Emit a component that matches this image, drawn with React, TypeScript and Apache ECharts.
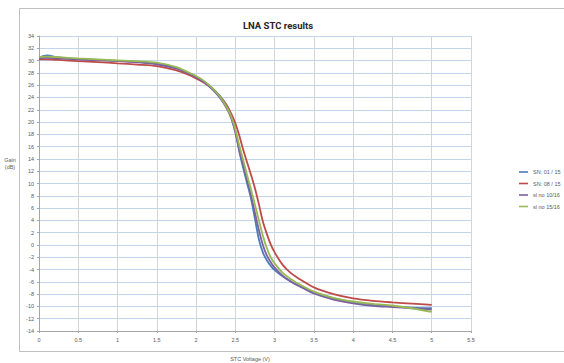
import React, { useEffect, useRef } from "react";
import * as echarts from "echarts";

const xValues = [0, 0.1, 0.25, 0.5, 0.75, 1, 1.25, 1.5, 1.75, 1.9, 2, 2.1, 2.2, 2.3, 2.4, 2.45, 2.5, 2.55, 2.6, 2.65, 2.7, 2.75, 2.8, 2.85, 2.9, 2.95, 3.0, 3.1, 3.2, 3.3, 3.5, 3.75, 4, 4.25, 4.5, 4.75, 5];

const sn01 = [30.5, 30.85, 30.5, 30.2, 30.1, 29.95, 29.8, 29.5, 28.8, 28.0, 27.4, 26.6, 25.6, 24.3, 22.5, 20.8, 18.5, 15.2, 12.5, 10, 7.5, 4.2, 0.9, -1.2, -2.5, -3.4, -4.1, -5.1, -5.9, -6.6, -7.7, -8.7, -9.3, -9.7, -10, -10.2, -10.3];
const sn08 = [30.2, 30.2, 30.1, 29.9, 29.75, 29.55, 29.35, 29.1, 28.4, 27.7, 27.1, 26.4, 25.5, 24.2, 22.5, 21.3, 19.8, 17.8, 15.5, 13.4, 11.4, 9.2, 6.6, 3.8, 1.8, 0.1, -1.2, -3.2, -4.5, -5.4, -6.9, -8.0, -8.7, -9.1, -9.35, -9.55, -9.75];
const sl10 = [30.4, 30.45, 30.35, 30.2, 30.05, 29.9, 29.7, 29.4, 28.7, 27.9, 27.3, 26.5, 25.4, 24.0, 22.0, 20.5, 18.3, 15.5, 13.0, 10.5, 8.0, 5.2, 2.4, 0, -1.7, -2.8, -3.7, -5.0, -5.9, -6.6, -7.9, -8.9, -9.5, -9.9, -10.1, -10.3, -10.5];
const sl15 = [30.6, 30.65, 30.55, 30.35, 30.2, 30.05, 29.9, 29.65, 28.95, 28.1, 27.5, 26.7, 25.6, 24.2, 22.2, 20.8, 18.8, 16.2, 13.8, 11.3, 9.0, 6.5, 4.0, 1.5, -0.5, -2.0, -3.0, -4.5, -5.5, -6.3, -7.6, -8.6, -9.2, -9.6, -9.85, -10.3, -10.9];

const seriesNames = ["SN: 01 / 15", "SN: 08 / 15", "sl no 10/16", "sl no 15/16"];
const seriesColors = ["#4a7ebb", "#be4b48", "#7d60a0", "#98b954"];
const seriesValues = [sn01, sn08, sl10, sl15];

const yMin = -14;
const yMax = 34;
const yStep = 2;
const xMin = 0;
const xMax = 5.5;
const xStep = 0.5;

export default function App() {
  const ref = useRef<HTMLDivElement>(null);
  useEffect(() => {
    document.body.style.margin = "0";
    if (!ref.current) return;
    const chart = echarts.init(ref.current, null, { renderer: "svg" });
    const font = "'Liberation Sans', Arial, sans-serif";
    chart.setOption({
      animation: false,
      backgroundColor: "#ffffff",
      title: {
        text: "LNA STC results",
        left: 273,
        top: 15,
        textAlign: "center",
        textStyle: { fontSize: 9.5, fontWeight: "bold", color: "#262626", fontFamily: "Roboto, sans-serif" },
      },
      legend: {
        orient: "vertical",
        left: 519,
        top: 169,
        padding: 0,
        itemWidth: 9,
        itemHeight: 1.6,
        itemGap: 5.5,
        icon: "rect",
        textStyle: { fontSize: 5.5, color: "#595959", fontFamily: font },
        data: seriesNames,
      },
      grid: { left: 39, right: 93, top: 36, bottom: 32 },
      xAxis: {
        type: "value",
        min: xMin,
        max: xMax,
        interval: xStep,
        axisLine: { onZero: false, lineStyle: { color: "#a6a6a6", width: 1 } },
        axisTick: { show: true, length: 2, lineStyle: { color: "#a6a6a6" } },
        axisLabel: { fontSize: 5.5, color: "#595959", margin: 6, fontFamily: font },
        splitLine: { show: true, lineStyle: { color: "#d4d4d4", width: 1 } },
      },
      yAxis: {
        type: "value",
        min: yMin,
        max: yMax,
        interval: yStep,
        axisLine: { show: true, onZero: false, lineStyle: { color: "#a6a6a6", width: 1 } },
        axisTick: { show: true, length: 2, lineStyle: { color: "#a6a6a6" } },
        axisLabel: { fontSize: 5.5, color: "#595959", margin: 5, fontFamily: font },
        splitLine: { show: true, lineStyle: { color: "#c3d5ea", width: 1 } },
      },
      series: seriesValues.map((vals, i) => ({
        name: seriesNames[i],
        type: "line",
        smooth: 0.3,
        showSymbol: false,
        symbol: "none",
        color: seriesColors[i],
        lineStyle: { width: 1.8, color: seriesColors[i] },
        data: xValues.map((x, j) => [x, vals[j]]),
      })),
      graphic: [
        {
          type: "rect",
          shape: { x: 19.5, y: 8.5, width: 600, height: 343 },
          style: { fill: "none", stroke: "#c0c0c0", lineWidth: 1 },
          silent: true,
        },
        {
          type: "text",
          x: 10,
          y: 157,
          style: {
            text: "Gain\n(dB)",
            fontSize: 5.5,
            fill: "#595959",
            align: "center",
            fontFamily: font,
            lineHeight: 6.5,
          },
        },
        {
          type: "text",
          x: 250,
          y: 356,
          style: {
            text: "STC Voltage (V)",
            fontSize: 5.5,
            fill: "#595959",
            align: "center",
            fontFamily: font,
          },
        },
      ],
    });
    return () => chart.dispose();
  }, []);
  return <div ref={ref} style={{ width: 564, height: 363 }} />;
}
